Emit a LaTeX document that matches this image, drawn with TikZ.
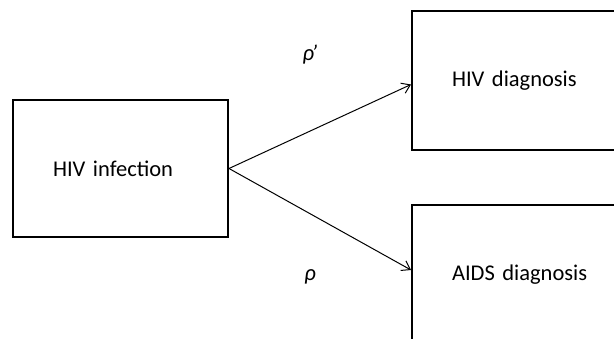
\documentclass[tikz,border=0pt]{standalone}
\usepackage{fontspec}
\setmainfont{Carlito}
\usepackage{tikz}
\usetikzlibrary{arrows.meta,positioning}
\newcommand{\boxfont}{\fontsize{22.5}{27}\selectfont}

\begin{document}
\begin{tikzpicture}[>={Straight Barb[length=8pt,width=11pt]},
stage/.style={draw=black,line width=2pt,inner xsep=40pt,align=left,font=\boxfont},
path/.style={->,line width=1pt},
rate/.style={font=\boxfont\itshape}]
\clip (0,0) rectangle (614pt,-339pt);
\node[stage,minimum height=137pt,text width=135pt] (inf) at (120.5pt,-168.5pt) {HIV infection};
\node[stage,minimum height=139pt,text width=150pt,right=182pt of inf,yshift=88pt] (hd) {HIV diagnosis};
\node[stage,minimum height=140pt,text width=150pt,below=53pt of hd] (ad) {AIDS diagnosis};
\node[rate] (rp) at (310pt,-55pt) {ρ\kern-2.5pt'};
\node[rate] (r) at (310pt,-277pt) {ρ};
\draw[path] (inf.east) -- ([yshift=-4pt]hd.west);
\draw[path] (inf.east) -- ([yshift=5pt]ad.west);
\end{tikzpicture}
\end{document}
